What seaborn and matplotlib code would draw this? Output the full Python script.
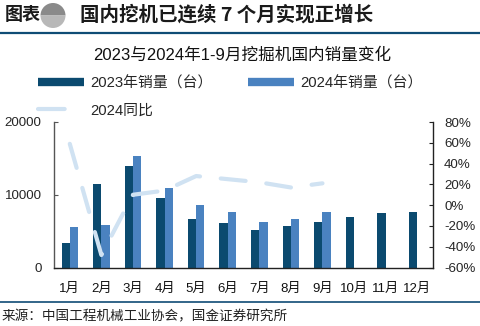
import numpy as np
import pandas as pd
import matplotlib
matplotlib.use('Agg')
import matplotlib.pyplot as plt
import seaborn as sns
from matplotlib.lines import Line2D
from matplotlib.patches import Wedge
from matplotlib.ticker import FuncFormatter

# ---- data ----
months = ['1月', '2月', '3月', '4月', '5月', '6月', '7月', '8月', '9月', '10月', '11月', '12月']
sales_2023 = [3430, 11450, 13950, 9560, 6730, 6130, 5170, 5770, 6320, 6910, 7460, 7640]
sales_2024 = [5540, 5910, 15290, 10900, 8600, 7640, 6320, 6730, 7640]
yoy_2024 = [59, -48, 10, 14, 28, 25, 22, 17, 21]
series_names = ['2023年销量（台）', '2024年销量（台）', '2024同比']
left_ticks = [0, 10000, 20000]
right_ticks = [-60, -40, -20, 0, 20, 40, 60, 80]
header_label = '图表'
header_title = '国内挖机已连续 7 个月实现正增长'
chart_title = '2023与2024年1-9月挖掘机国内销量变化'
source_text = '来源：中国工程机械工业协会，国金证券研究所'

# ---- style ----
c2023 = '#0b4a6f'
c2024 = '#4a82c0'
cline = '#d0e2f2'
cband = '#0f4c75'

sns.set_style('white')
plt.rcParams['font.family'] = ['Liberation Sans', 'Noto Sans CJK SC']
plt.rcParams['axes.unicode_minus'] = False

W, H = 480, 326
fig = plt.figure(figsize=(W / 100, H / 100), dpi=100)

ax = fig.add_axes([54 / W, 1 - 267.5 / H, 379 / W, 145.5 / H])

df = pd.DataFrame({
    'month': months + months[:len(sales_2024)],
    'sales': sales_2023 + sales_2024,
    'year': ['2023'] * len(sales_2023) + ['2024'] * len(sales_2024),
})
sns.barplot(data=df, x='month', y='sales', hue='year', order=months,
            hue_order=['2023', '2024'], palette=[c2023, c2024],
            width=0.52, gap=0, saturation=1, linewidth=0, legend=False, ax=ax)

ax2 = ax.twinx()
sns.lineplot(x=np.arange(len(yoy_2024)), y=yoy_2024, ax=ax2, color=cline,
             linewidth=3, linestyle=(0, (6, 5)), dash_capstyle='round')

ax.set_xlim(-0.5, len(months) - 0.5)
ax.set_ylim(0, 20000)
ax2.set_ylim(-60, 80)
ax.set_xlabel('')
ax.set_ylabel('')
ax2.set_xlabel('')
ax2.set_ylabel('')

ax.set_xticks(range(len(months)))
ax.set_xticklabels(months)
ax.set_xticks(np.arange(-0.5, len(months), 1), minor=True)
ax.tick_params(axis='x', which='major', length=0, pad=11, labelsize=9.5, labelcolor='#111111')
ax.tick_params(axis='x', which='minor', length=3, direction='in', color='#333333', width=0.8)
ax.set_yticks(left_ticks)
ax.tick_params(axis='y', direction='in', length=3, pad=9, labelsize=9.6, color='#555555', width=0.8)
ax.yaxis.set_major_formatter(FuncFormatter(lambda v, p: f'{v:.0f}'))

ax2.set_yticks(right_ticks)
ax2.yaxis.set_major_formatter(FuncFormatter(lambda v, p: f'{v:.0f}%'))
ax2.tick_params(axis='y', direction='in', length=3, pad=8, labelsize=9.6, color='#222222', width=0.8)

for a in (ax, ax2):
    a.spines['top'].set_visible(False)
ax.spines['right'].set_visible(False)
ax.spines['left'].set_color('#555555')
ax.spines['left'].set_linewidth(1.0)
ax.spines['bottom'].set_color('#222222')
ax.spines['bottom'].set_linewidth(1.0)
ax2.spines['left'].set_visible(False)
ax2.spines['bottom'].set_visible(False)
ax2.spines['right'].set_color('#222222')
ax2.spines['right'].set_linewidth(1.0)

# ---- legend ----
h2023 = Line2D([], [], color=c2023, linewidth=6, solid_capstyle='butt')
h2024 = Line2D([], [], color=c2024, linewidth=6, solid_capstyle='butt')
hyoy = Line2D([], [], color=cline, linewidth=3, linestyle=(0, (6.4, 10)), dash_capstyle='round')
fig.legend([h2023, hyoy, h2024], [series_names[0], series_names[2], series_names[1]],
           ncol=2, loc='upper left', bbox_to_anchor=(37.7 / W, 1 - 76 / H),
           frameon=False, fontsize=10.7, handlelength=3.1, handletextpad=0.42,
           columnspacing=2.4, labelspacing=0.9, borderpad=0, borderaxespad=0)

# ---- titles / header / footer ----
fig.text(241.7 / W, 1 - 55.3 / H, chart_title, ha='center', va='center', fontsize=12, color='#111111')

fig.text(5 / W, 1 - 15 / H, header_label, ha='left', va='center', fontsize=13,
         fontweight='bold', color='#1a1a1a', family=['Noto Sans CJK SC'])
fig.text(80 / W, 1 - 15 / H, header_title, ha='left', va='center', fontsize=14,
         fontweight='bold', color='#1a1a1a', family=['Noto Sans CJK SC', 'Liberation Sans'])
cx, cy, r = 53 / 100, (H - 15.5) / 100, 12.5 / 100
fig.add_artist(Wedge((cx, cy), r, 0, 180, transform=fig.dpi_scale_trans, color='#8a8a8a', lw=0))
fig.add_artist(Wedge((cx, cy), r, 180, 360, transform=fig.dpi_scale_trans, color='#b8b8b8', lw=0))

fig.add_artist(Line2D([0, 1], [1 - 33.3 / H, 1 - 33.3 / H], transform=fig.transFigure,
                      color=cband, linewidth=1.6))
fig.add_artist(Line2D([0, 1], [1 - 301.7 / H, 1 - 301.7 / H], transform=fig.transFigure,
                      color=cband, linewidth=1.2))
fig.text(2 / W, 1 - 316 / H, source_text, ha='left', va='center', fontsize=9.8,
         color='#222222', family=['Noto Sans CJK SC'])

fig.savefig('out.png', dpi=100)
